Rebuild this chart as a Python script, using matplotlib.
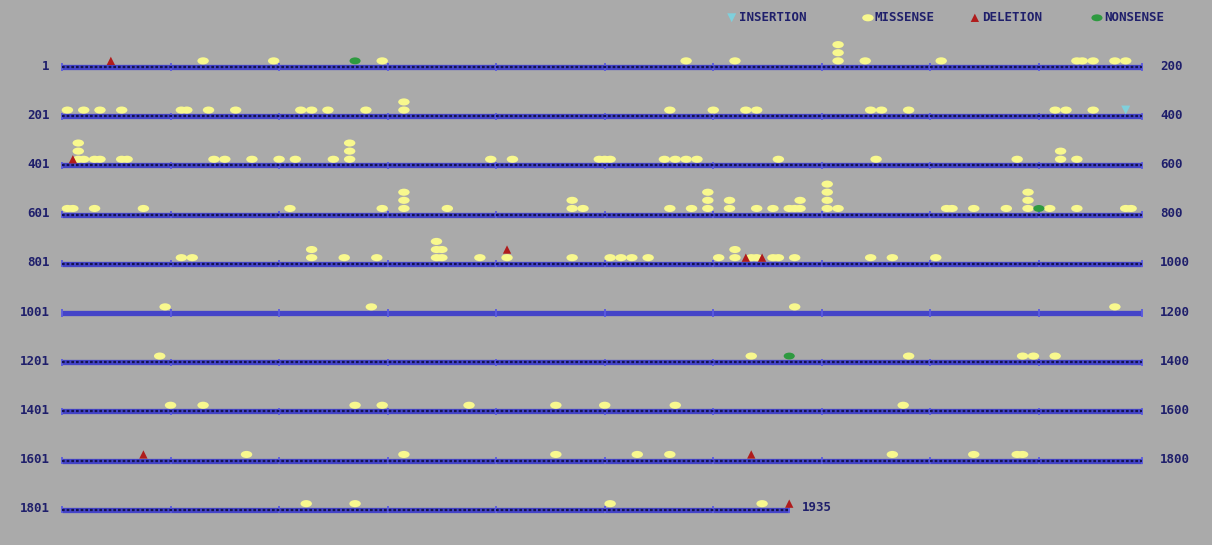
import matplotlib.pyplot as plt
import numpy as np
from matplotlib.path import Path

# --- data: mutation positions along a 1935 aa protein ---
protein_length = 1935
row_len = 200
tick_step = 20
row_starts = [1, 201, 401, 601, 801, 1001, 1201, 1401, 1601, 1801]
row_ends = [200, 400, 600, 800, 1000, 1200, 1400, 1600, 1800, 1935]
hatched = [True, True, True, True, True, False, True, True, True, True]

missense = [27, 40, 60, 116, 125, 144, 144, 144, 149, 163, 188, 189, 191, 195, 197,
            202, 205, 208, 212, 223, 224, 228, 233, 245, 247, 250, 257, 264, 264,
            313, 321, 327, 329, 350, 352, 357, 384, 386, 391,
            404, 404, 404, 405, 407, 408, 412, 413, 429, 431, 436, 441, 444, 451,
            454, 454, 454, 480, 484, 500, 501, 502, 512, 514, 516, 518, 533, 551,
            577, 585, 585, 588,
            602, 603, 607, 616, 643, 660, 664, 664, 664, 672, 695, 695, 697, 713,
            717, 720, 720, 720, 724, 724, 729, 732, 735, 736, 737, 737, 742, 742,
            742, 742, 744, 764, 765, 769, 775, 779, 779, 779, 783, 788, 797, 798,
            823, 825, 847, 847, 853, 859, 870, 870, 870, 871, 871, 878, 883, 895,
            902, 904, 906, 909, 922, 925, 925, 928, 929, 932, 933, 936, 950, 954, 962,
            1020, 1058, 1136, 1195,
            1219, 1328, 1357, 1378, 1380, 1384,
            1421, 1427, 1455, 1460, 1476, 1492, 1501, 1514, 1556,
            1635, 1664, 1692, 1707, 1713, 1754, 1769, 1777, 1778,
            1846, 1855, 1902, 1930]
deletion = [10, 403, 883, 927, 930, 1616, 1728, 1935]
nonsense = [55, 781, 1335]
insertion = [397]

legend_labels = ['INSERTION', 'MISSENSE', 'DELETION', 'NONSENSE']

# --- style ---
bg = '#aaaaaa'
navy = '#1f1f6b'
line_blue = '#4444c8'
col = {'missense': '#f8f88e', 'deletion': '#b01c1c', 'nonsense': '#2e9a40', 'insertion': '#7fd0dc'}

circ = Path.unit_circle()
ellipse = Path(circ.vertices * np.array([1.0, 0.62]), circ.codes)

fig = plt.figure(figsize=(12.12, 5.45), dpi=100)
fig.patch.set_facecolor(bg)
ax = fig.add_axes([0, 0, 1, 1])
ax.set_facecolor(bg)
ax.axis('off')
px = 1080 / 199.0
ax.set_xlim(-62 / px, (1212 - 62) / px)
row_gap = 49.2
ax.set_ylim((545 - 67) / row_gap, -67 / row_gap)

lab_font = dict(family='DejaVu Sans Mono', fontweight='bold', fontsize=9, color=navy)

# rows, ticks, labels
for r, (s, e) in enumerate(zip(row_starts, row_ends)):
    length = e - s
    ax.hlines(r, 0, length, color=line_blue, lw=3.8, zorder=2)
    if hatched[r]:
        ax.hlines(r, 0, length, color='#141450', lw=1.6, linestyles=(0, (1.2, 0.9)), zorder=3)
    ticks = list(range(0, length + 1, tick_step))
    if ticks[-1] != length:
        ticks.append(length)
    ax.vlines(ticks, r - 0.075, r + 0.075, color='#5a5ae0', lw=1.3, zorder=2)
    ax.text(-2.3, r - 0.02, str(s), ha='right', va='center', **lab_font)
    if e == protein_length and length < row_len - 1:
        ax.text(length + 2.3, r - 0.04, str(e), ha='left', va='center', **lab_font)
    else:
        ax.text(202.3, r - 0.02, str(e), ha='left', va='center', **lab_font)

# stacked mutation marks
level = {}
def place(positions):
    xs, ys = [], []
    for p in positions:
        r = min((p - 1) // row_len, len(row_starts) - 1)
        lv = level.get(p, 0)
        level[p] = lv + 1
        xs.append(p - row_starts[r])
        ys.append(r - 0.125 - lv * 0.165)
    return xs, ys

x, y = place(missense)
ax.scatter(x, y, s=68, marker=ellipse, color=col['missense'], edgecolors='none', zorder=4)
x, y = place(deletion)
ax.scatter(x, y, s=36, marker='^', color=col['deletion'], edgecolors='none', zorder=5)
x, y = place(nonsense)
ax.scatter(x, y, s=64, marker=ellipse, color=col['nonsense'], edgecolors='none', zorder=5)
x, y = place(insertion)
ax.scatter(x, y, s=42, marker='v', color=col['insertion'], edgecolors='none', zorder=5)

# legend along the top
leg_x = [123.4, 148.5, 168.2, 190.7]
leg_marker = [('v', col['insertion'], 42), (ellipse, col['missense'], 68),
              ('^', col['deletion'], 36), (ellipse, col['nonsense'], 64)]
for lx, lab, (m, c, sz) in zip(leg_x, legend_labels, leg_marker):
    ax.scatter([lx], [-1.0], s=sz, marker=m, color=c, edgecolors='none', zorder=5)
    ax.text(lx + 1.3, -1.0, lab, ha='left', va='center', **lab_font)

fig.savefig('out.png', dpi=100, facecolor=bg)
